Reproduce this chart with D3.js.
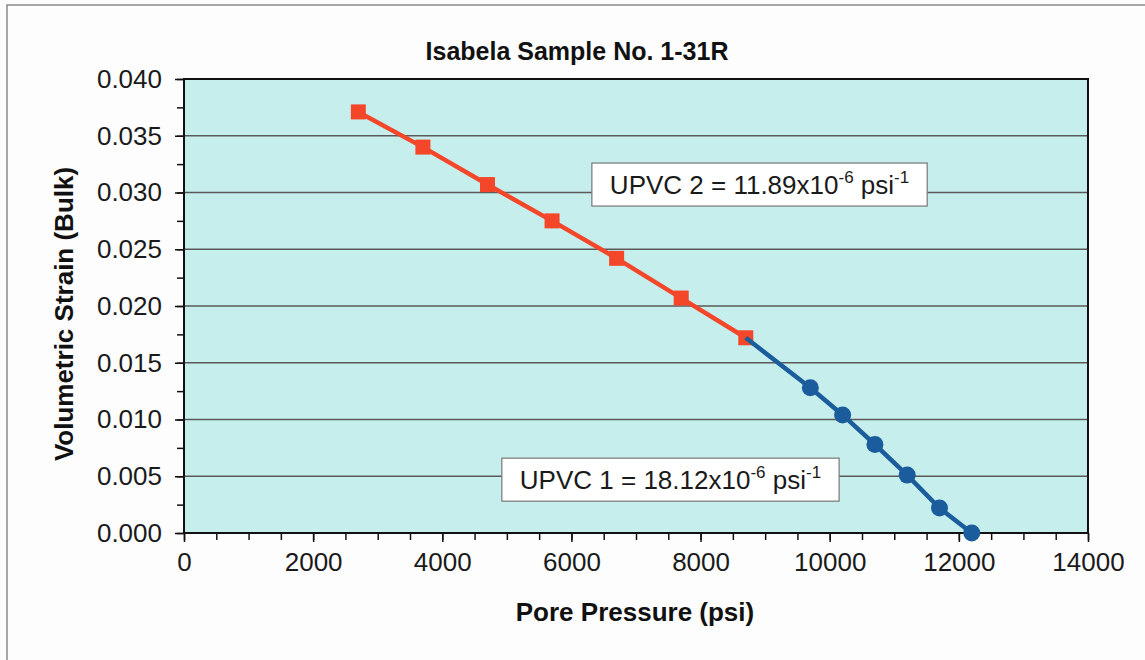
<!DOCTYPE html>
<html>
<head>
<meta charset="utf-8">
<script src="https://cdn.jsdelivr.net/npm/d3@7"></script>
<style>
  body { margin: 0; background: #fdfdfd; }
  text { font-family: "Liberation Sans", Arial, sans-serif; }
</style>
</head>
<body>
<div id="chart"></div>
<script>
// data
const upvc2Pressure = [2700, 3700, 4700, 5700, 6700, 7700, 8700];
const upvc2Strain   = [0.0371, 0.0340, 0.0307, 0.0275, 0.0242, 0.0207, 0.0172];
const upvc1Pressure = [8700, 9700, 10200, 10700, 11200, 11700, 12200];
const upvc1Strain   = [0.0172, 0.0128, 0.0104, 0.0078, 0.0051, 0.0022, 0.0000];
const xTicks = [0, 2000, 4000, 6000, 8000, 10000, 12000, 14000];
const yTicks = [0, 0.005, 0.010, 0.015, 0.020, 0.025, 0.030, 0.035, 0.040];
const labels = [
    {base: "UPVC 2 = 11.89x10", exp: "-6", unit: " psi", unitExp: "-1", x: 8913, y: 0.0307},
    {base: "UPVC 1 = 18.12x10", exp: "-6", unit: " psi", unitExp: "-1", x: 7534, y: 0.0047}
];

const width = 1145, height = 660;
const margin = {top: 79, right: 57, bottom: 127, left: 184};

const svg = d3.select("#chart").append("svg")
    .attr("width", width)
    .attr("height", height);

// outer frame (only top and left show in the scan)
svg.append("path")
    .attr("d", `M7,${height} L7,5 L${width},5`)
    .attr("fill", "none")
    .attr("stroke", "#8a8a8a")
    .attr("stroke-width", 1.5);

const x = d3.scaleLinear().domain([0, 14000]).range([margin.left, width - margin.right]);
const y = d3.scaleLinear().domain([0, 0.04]).range([height - margin.bottom, margin.top]);

// plot background
svg.append("rect")
    .attr("x", x(0)).attr("y", y(0.04))
    .attr("width", x(14000) - x(0)).attr("height", y(0) - y(0.04))
    .attr("fill", "#c6eeec");

// gridlines
svg.append("g").selectAll("line")
    .data(yTicks.filter(d => d > 0 && d < 0.04))
    .join("line")
    .attr("x1", x(0)).attr("x2", x(14000))
    .attr("y1", d => y(d)).attr("y2", d => y(d))
    .attr("stroke", "#5a5a5a").attr("stroke-width", 1.3);

// plot border
svg.append("rect")
    .attr("x", x(0)).attr("y", y(0.04))
    .attr("width", x(14000) - x(0)).attr("height", y(0) - y(0.04))
    .attr("fill", "none").attr("stroke", "#111").attr("stroke-width", 2);

// x axis: minor ticks every 500
const xAxis = svg.append("g").attr("transform", `translate(0,${y(0)})`);
xAxis.call(d3.axisBottom(x).tickValues(d3.range(0, 14001, 500)).tickSize(7).tickFormat(""))
    .call(g => g.select(".domain").remove())
    .call(g => g.selectAll("line").attr("stroke", "#111").attr("stroke-width", 1.5));
xAxis.append("g")
    .call(d3.axisBottom(x).tickValues(xTicks).tickSize(9).tickFormat(d3.format("d")).tickPadding(11))
    .call(g => g.select(".domain").remove())
    .call(g => g.selectAll("line").attr("stroke", "#111").attr("stroke-width", 1.5))
    .call(g => g.selectAll("text").attr("font-size", 26).attr("fill", "#1a1a1a"));

// y axis: minor ticks every 0.0025
const yAxis = svg.append("g").attr("transform", `translate(${x(0)},0)`);
yAxis.call(d3.axisLeft(y).tickValues(d3.range(0, 0.04001, 0.0025)).tickSize(7).tickFormat(""))
    .call(g => g.select(".domain").remove())
    .call(g => g.selectAll("line").attr("stroke", "#111").attr("stroke-width", 1.5));
yAxis.append("g")
    .call(d3.axisLeft(y).tickValues(yTicks).tickSize(9).tickFormat(d3.format(".3f")).tickPadding(13))
    .call(g => g.select(".domain").remove())
    .call(g => g.selectAll("line").attr("stroke", "#111").attr("stroke-width", 1.5))
    .call(g => g.selectAll("text").attr("font-size", 26).attr("fill", "#1a1a1a"));

// series
const line = d3.line().x(d => x(d[0])).y(d => y(d[1]));
const red = "#f4472a", blue = "#1b5d9c";
const s2 = d3.zip(upvc2Pressure, upvc2Strain);
const s1 = d3.zip(upvc1Pressure, upvc1Strain);

svg.append("path").datum(s2).attr("d", line)
    .attr("fill", "none").attr("stroke", red).attr("stroke-width", 4.5);
svg.append("g").selectAll("rect").data(s2).join("rect")
    .attr("x", d => x(d[0]) - 7.5).attr("y", d => y(d[1]) - 7.5)
    .attr("width", 15).attr("height", 15).attr("fill", red);

svg.append("path").datum(s1).attr("d", line)
    .attr("fill", "none").attr("stroke", blue).attr("stroke-width", 4.5);
svg.append("g").selectAll("circle").data(s1.slice(1)).join("circle")
    .attr("cx", d => x(d[0])).attr("cy", d => y(d[1]))
    .attr("r", 8.5).attr("fill", blue);

// annotation boxes
labels.forEach(l => {
    const g = svg.append("g");
    const t = g.append("text")
        .attr("x", x(l.x)).attr("y", y(l.y) + 9)
        .attr("text-anchor", "middle")
        .attr("font-size", 26).attr("fill", "#1a1a1a");
    t.append("tspan").text(l.base);
    t.append("tspan").text(l.exp).attr("font-size", 17).attr("dy", -11);
    t.append("tspan").text(l.unit).attr("dy", 11);
    t.append("tspan").text(l.unitExp).attr("font-size", 17).attr("dy", -11);
    const bb = t.node().getBBox();
    g.insert("rect", "text")
        .attr("x", bb.x - 18).attr("y", y(l.y) - 21.5)
        .attr("width", bb.width + 36).attr("height", 43)
        .attr("fill", "#fff").attr("stroke", "#777").attr("stroke-width", 1.2);
});

// titles
svg.append("text")
    .attr("x", 577).attr("y", 60)
    .attr("text-anchor", "middle")
    .attr("font-size", 25).attr("font-weight", "bold").attr("fill", "#111")
    .text("Isabela Sample No. 1-31R");

svg.append("text")
    .attr("x", 635).attr("y", 621)
    .attr("text-anchor", "middle")
    .attr("font-size", 26).attr("font-weight", "bold").attr("fill", "#111")
    .text("Pore Pressure (psi)");

svg.append("text")
    .attr("transform", `translate(73,${(y(0) + y(0.04)) / 2 + 8}) rotate(-90)`)
    .attr("text-anchor", "middle")
    .attr("font-size", 26).attr("font-weight", "bold").attr("fill", "#111")
    .text("Volumetric Strain (Bulk)");
</script>
</body>
</html>
